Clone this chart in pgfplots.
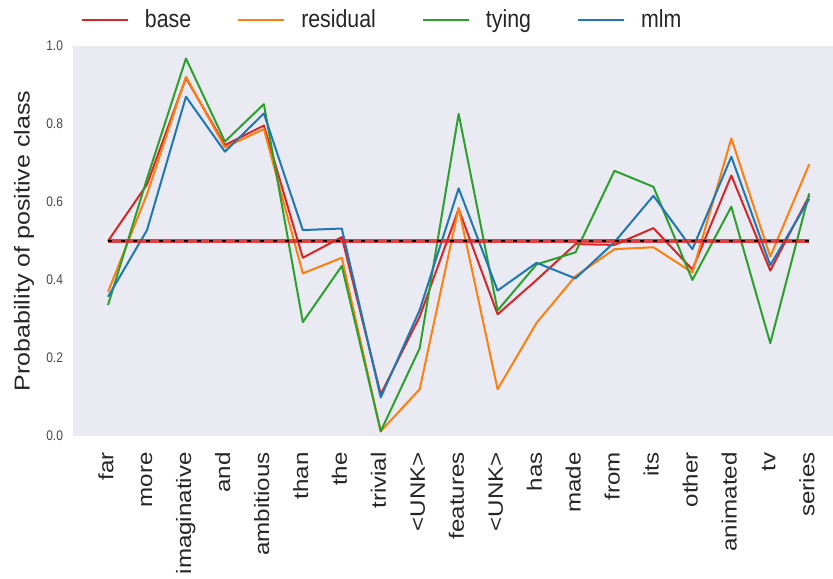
\documentclass[border=0pt]{standalone}
\usepackage{fontspec}
\setmainfont{Liberation Sans}
\usepackage{graphicx}
\usepackage{pgfplots}
\pgfplotsset{compat=1.18}
\usepackage{pgfplotstable}
\definecolor{cbase}{HTML}{D62728}
\definecolor{cres}{HTML}{FF7F0E}
\definecolor{ctying}{HTML}{2CA02C}
\definecolor{cmlm}{HTML}{1F77B4}
\definecolor{bg}{HTML}{EAEAF2}
\definecolor{textc}{HTML}{262626}
\newcommand{\XS}[1]{\scalebox{1.16}[1]{#1}}
\newcommand{\YS}[1]{\scalebox{1}[1.16]{#1}}

\pgfplotstableread{
idx base residual tying mlm
0  0.500 0.370 0.336 0.357
1  0.645 0.620 0.660 0.528
2  0.918 0.921 0.968 0.870
3  0.746 0.740 0.755 0.729
4  0.796 0.787 0.851 0.827
5  0.457 0.417 0.292 0.528
6  0.510 0.457 0.436 0.532
7  0.107 0.012 0.012 0.099
8  0.306 0.120 0.225 0.323
9  0.582 0.585 0.826 0.635
10 0.312 0.120 0.322 0.373
11 0.400 0.290 0.440 0.444
12 0.492 0.410 0.471 0.404
13 0.490 0.479 0.680 0.497
14 0.533 0.484 0.639 0.616
15 0.427 0.419 0.400 0.479
16 0.668 0.763 0.588 0.716
17 0.424 0.460 0.238 0.438
18 0.616 0.697 0.622 0.608
}\data

\begin{document}
\begin{tikzpicture}
\path[use as bounding box] (-54.75pt,-107.25pt) rectangle (570pt,327pt);
\begin{axis}[
  at={(0,0)}, anchor=south west,
  width=570pt, height=292.5pt, scale only axis,
  xmin=-0.9, xmax=18.61, ymin=0, ymax=1,
  axis background/.style={fill=bg},
  axis line style={draw=none},
  major tick length=0pt,
  tick style={draw=none},
  xtick={0,1,2,3,4,5,6,7,8,9,10,11,12,13,14,15,16,17,18},
  xticklabels={\XS{far},\XS{more},\XS{imaginative},\XS{and},\XS{ambitious},\XS{than},\XS{the},\XS{trivial},\XS{<UNK>},\XS{features},\XS{<UNK>},\XS{has},\XS{made},\XS{from},\XS{its},\XS{other},\XS{animated},\XS{tv},\XS{series}},
  xticklabel style={rotate=90, anchor=east, inner sep=0pt, font=\fontsize{15.6}{18}\selectfont, text=textc, text height=11.7pt, text depth=3.9pt},
  xticklabel shift=12pt,
  ytick={0,0.2,0.4,0.6,0.8,1},
  yticklabel={\YS{\pgfmathprintnumber[fixed,fixed zerofill,precision=1,assume math mode=true]{\tick}}},
  yticklabel style={font=\fontsize{9}{11}\selectfont, text=textc!85, inner sep=0pt, anchor=east},
  yticklabel shift=7.3pt,
  ylabel={\XS{Probability of positive class}},
  every axis y label/.style={at={([xshift=-36.75pt]rel axis cs:0,0.5)}, rotate=90, anchor=center, font=\fontsize{16.2}{19}\selectfont, text=textc},
  legend columns=4,
  legend image code/.code={\draw[#1] (0pt,0pt) -- (34.5pt,0pt);},
  legend style={draw=none, fill=none, inner sep=0pt, outer sep=0pt,
    at={(rel axis cs:0,1)}, anchor=west, xshift=6pt, yshift=19.5pt,
    font=\fontsize{16}{19}\selectfont, text=textc,
    nodes={inner sep=0pt},
    /tikz/every odd column/.append style={column sep=12pt},
    /tikz/every even column/.append style={column sep=34.5pt}},
  legend cell align=left,
]
\addplot[cbase, line width=1.5pt, line join=round] table[x=idx,y=base]{\data};
\addlegendentry{\YS{base}}
\addplot[cres, line width=1.5pt, line join=round] table[x=idx,y=residual]{\data};
\addlegendentry{\YS{residual}}
\addplot[ctying, line width=1.5pt, line join=round] table[x=idx,y=tying]{\data};
\addlegendentry{\YS{tying}}
\addplot[cmlm, line width=1.5pt, line join=round] table[x=idx,y=mlm]{\data};
\addlegendentry{\YS{mlm}}
\addplot[forget plot, cbase, opacity=0.85, line width=2.8pt] coordinates {(0,0.5) (18,0.5)};
\addplot[forget plot, black, line width=1pt, dash pattern=on 3pt off 6.5pt] coordinates {(0,0.5) (18,0.5)};
\end{axis}
\end{tikzpicture}
\end{document}
